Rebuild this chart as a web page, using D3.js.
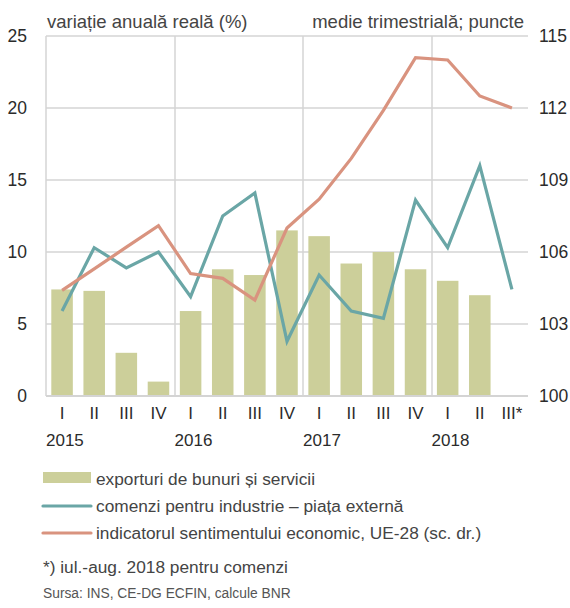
<!DOCTYPE html>
<html lang="ro">
<head>
<meta charset="utf-8">
<title>Exporturi si comenzi</title>
<script src="https://cdn.jsdelivr.net/npm/d3@7"></script>
<style>
  body { margin: 0; background: #fff; }
  text { font-family: "Liberation Sans", Arial, sans-serif; }
  .tick-lbl { font-family: "Liberation Sans Narrow", "Liberation Sans", sans-serif; }
</style>
</head>
<body>
<div id="chart"></div>
<script>
// data
var quarters = ["I", "II", "III", "IV", "I", "II", "III", "IV", "I", "II", "III", "IV", "I", "II", "III*"];
var years = ["2015", "2016", "2017", "2018"];
var exporturi = [7.4, 7.3, 3.0, 1.0, 5.9, 8.8, 8.4, 11.5, 11.1, 9.2, 10.0, 8.8, 8.0, 7.0, null];
var comenzi = [5.9, 10.3, 8.9, 10.0, 6.9, 12.5, 14.1, 3.8, 8.4, 5.9, 5.4, 13.6, 10.3, 16.0, 7.4];
var sentiment = [104.4, 105.3, 106.2, 107.1, 105.1, 104.9, 104.0, 107.0, 108.2, 109.9, 111.9, 114.1, 114.0, 112.5, 112.0];
var leftTicks = [0, 5, 10, 15, 20, 25];
var rightTicks = [100, 103, 106, 109, 112, 115];

var W = 570, H = 608;
var m = {left: 46, right: 42, top: 36, bottom: 212};
var iw = W - m.left - m.right, ih = H - m.top - m.bottom;

var cBar = "#cccf9a", cTeal = "#6aa6a6", cOrange = "#d9937f", cGrid = "#d4d4d4";

var svg = d3.select("#chart").append("svg")
  .attr("width", W).attr("height", H);

var g = svg.append("g").attr("transform", "translate(" + m.left + "," + m.top + ")");

var idx = d3.range(quarters.length);
var x = d3.scaleBand().domain(idx).range([0, iw]).paddingInner(0.33).paddingOuter(0.165);
var xc = function(i) { return x(i) + x.bandwidth() / 2; };
var step = x.step();
var yL = d3.scaleLinear().domain([0, 25]).range([ih, 0]);
var yR = d3.scaleLinear().domain([100, 115]).range([ih, 0]);

// horizontal grid
g.selectAll(".hg").data(leftTicks).enter().append("line")
  .attr("x1", 0).attr("x2", iw)
  .attr("y1", function(d) { return yL(d); }).attr("y2", function(d) { return yL(d); })
  .attr("stroke", cGrid).attr("stroke-width", 1.5);

// vertical grid at year starts
g.selectAll(".vg").data(years).enter().append("line")
  .attr("x1", function(d, i) { return Math.round(i * 4 * step); })
  .attr("x2", function(d, i) { return Math.round(i * 4 * step); })
  .attr("y1", 0).attr("y2", ih)
  .attr("stroke", cGrid).attr("stroke-width", 1.5);

// bars
g.selectAll(".bar").data(exporturi).enter().filter(function(d) { return d != null; })
  .append("rect")
  .attr("x", function(d, i) { return x(i); })
  .attr("width", x.bandwidth())
  .attr("y", function(d) { return yL(d); })
  .attr("height", function(d) { return ih - yL(d); })
  .attr("fill", cBar);

// baseline
g.append("line").attr("x1", 0).attr("x2", iw).attr("y1", ih).attr("y2", ih)
  .attr("stroke", cGrid).attr("stroke-width", 2);

// lines
var lineL = d3.line().x(function(d, i) { return xc(i); }).y(function(d) { return yL(d); });
var lineR = d3.line().x(function(d, i) { return xc(i); }).y(function(d) { return yR(d); });

g.append("path").attr("d", lineL(comenzi))
  .attr("fill", "none").attr("stroke", cTeal).attr("stroke-width", 3.2).attr("stroke-linejoin", "miter");
g.append("path").attr("d", lineR(sentiment))
  .attr("fill", "none").attr("stroke", cOrange).attr("stroke-width", 3.2).attr("stroke-linejoin", "miter");

// left axis labels
g.selectAll(".yl").data(leftTicks).enter().append("text")
  .attr("class", "tick-lbl")
  .attr("x", -19).attr("y", function(d) { return yL(d); })
  .attr("dy", "0.35em").attr("text-anchor", "end")
  .attr("font-size", 17.5).attr("fill", "#2b2b2b")
  .text(function(d) { return d; });

// right axis labels
g.selectAll(".yr").data(rightTicks).enter().append("text")
  .attr("class", "tick-lbl")
  .attr("x", iw + 11).attr("y", function(d) { return yR(d); })
  .attr("dy", "0.35em").attr("text-anchor", "start")
  .attr("font-size", 17.5).attr("fill", "#2b2b2b")
  .text(function(d) { return d; });

// quarter labels
g.selectAll(".ql").data(quarters).enter().append("text")
  .attr("class", "tick-lbl")
  .attr("x", function(d, i) { return xc(i); }).attr("y", ih + 17)
  .attr("dy", "0.35em").attr("text-anchor", "middle")
  .attr("font-size", 17).attr("fill", "#2b2b2b")
  .text(function(d) { return d; });

// year labels
g.selectAll(".yrl").data(years).enter().append("text")
  .attr("class", "tick-lbl")
  .attr("x", function(d, i) { return i * 4 * step; }).attr("y", ih + 44)
  .attr("dy", "0.35em").attr("text-anchor", "start")
  .attr("font-size", 17).attr("fill", "#2b2b2b")
  .text(function(d) { return d; });

// axis titles
svg.append("text").attr("x", 47).attr("y", 28)
  .attr("font-size", 18.5).attr("fill", "#444")
  .text("variație anuală reală (%)");
svg.append("text").attr("x", 524).attr("y", 28).attr("text-anchor", "end")
  .attr("font-size", 18.5).attr("fill", "#444")
  .text("medie trimestrială; puncte");

// legend
var leg = svg.append("g").attr("transform", "translate(43,0)");
leg.append("rect").attr("x", 0).attr("y", 472).attr("width", 48).attr("height", 11).attr("fill", cBar);
leg.append("line").attr("x1", 0).attr("x2", 48).attr("y1", 506).attr("y2", 506)
  .attr("stroke", cTeal).attr("stroke-width", 3.2).attr("stroke-linecap", "round");
leg.append("line").attr("x1", 0).attr("x2", 48).attr("y1", 533).attr("y2", 533)
  .attr("stroke", cOrange).attr("stroke-width", 3.2).attr("stroke-linecap", "round");
var legTexts = ["exporturi de bunuri și servicii", "comenzi pentru industrie – piața externă", "indicatorul sentimentului economic, UE-28 (sc. dr.)"];
leg.selectAll(".lt").data(legTexts).enter().append("text")
  .attr("x", 53).attr("y", function(d, i) { return [479, 506, 533][i]; })
  .attr("dy", "0.35em").attr("font-size", 17.3).attr("fill", "#444")
  .text(function(d) { return d; });

svg.append("text").attr("x", 43).attr("y", 567).attr("dy", "0.35em")
  .attr("font-size", 17.3).attr("fill", "#444")
  .text("*) iul.-aug. 2018 pentru comenzi");
svg.append("text").attr("x", 43).attr("y", 593).attr("dy", "0.35em")
  .attr("font-size", 13.8).attr("fill", "#555")
  .text("Sursa: INS, CE-DG ECFIN, calcule BNR");
</script>
</body>
</html>
